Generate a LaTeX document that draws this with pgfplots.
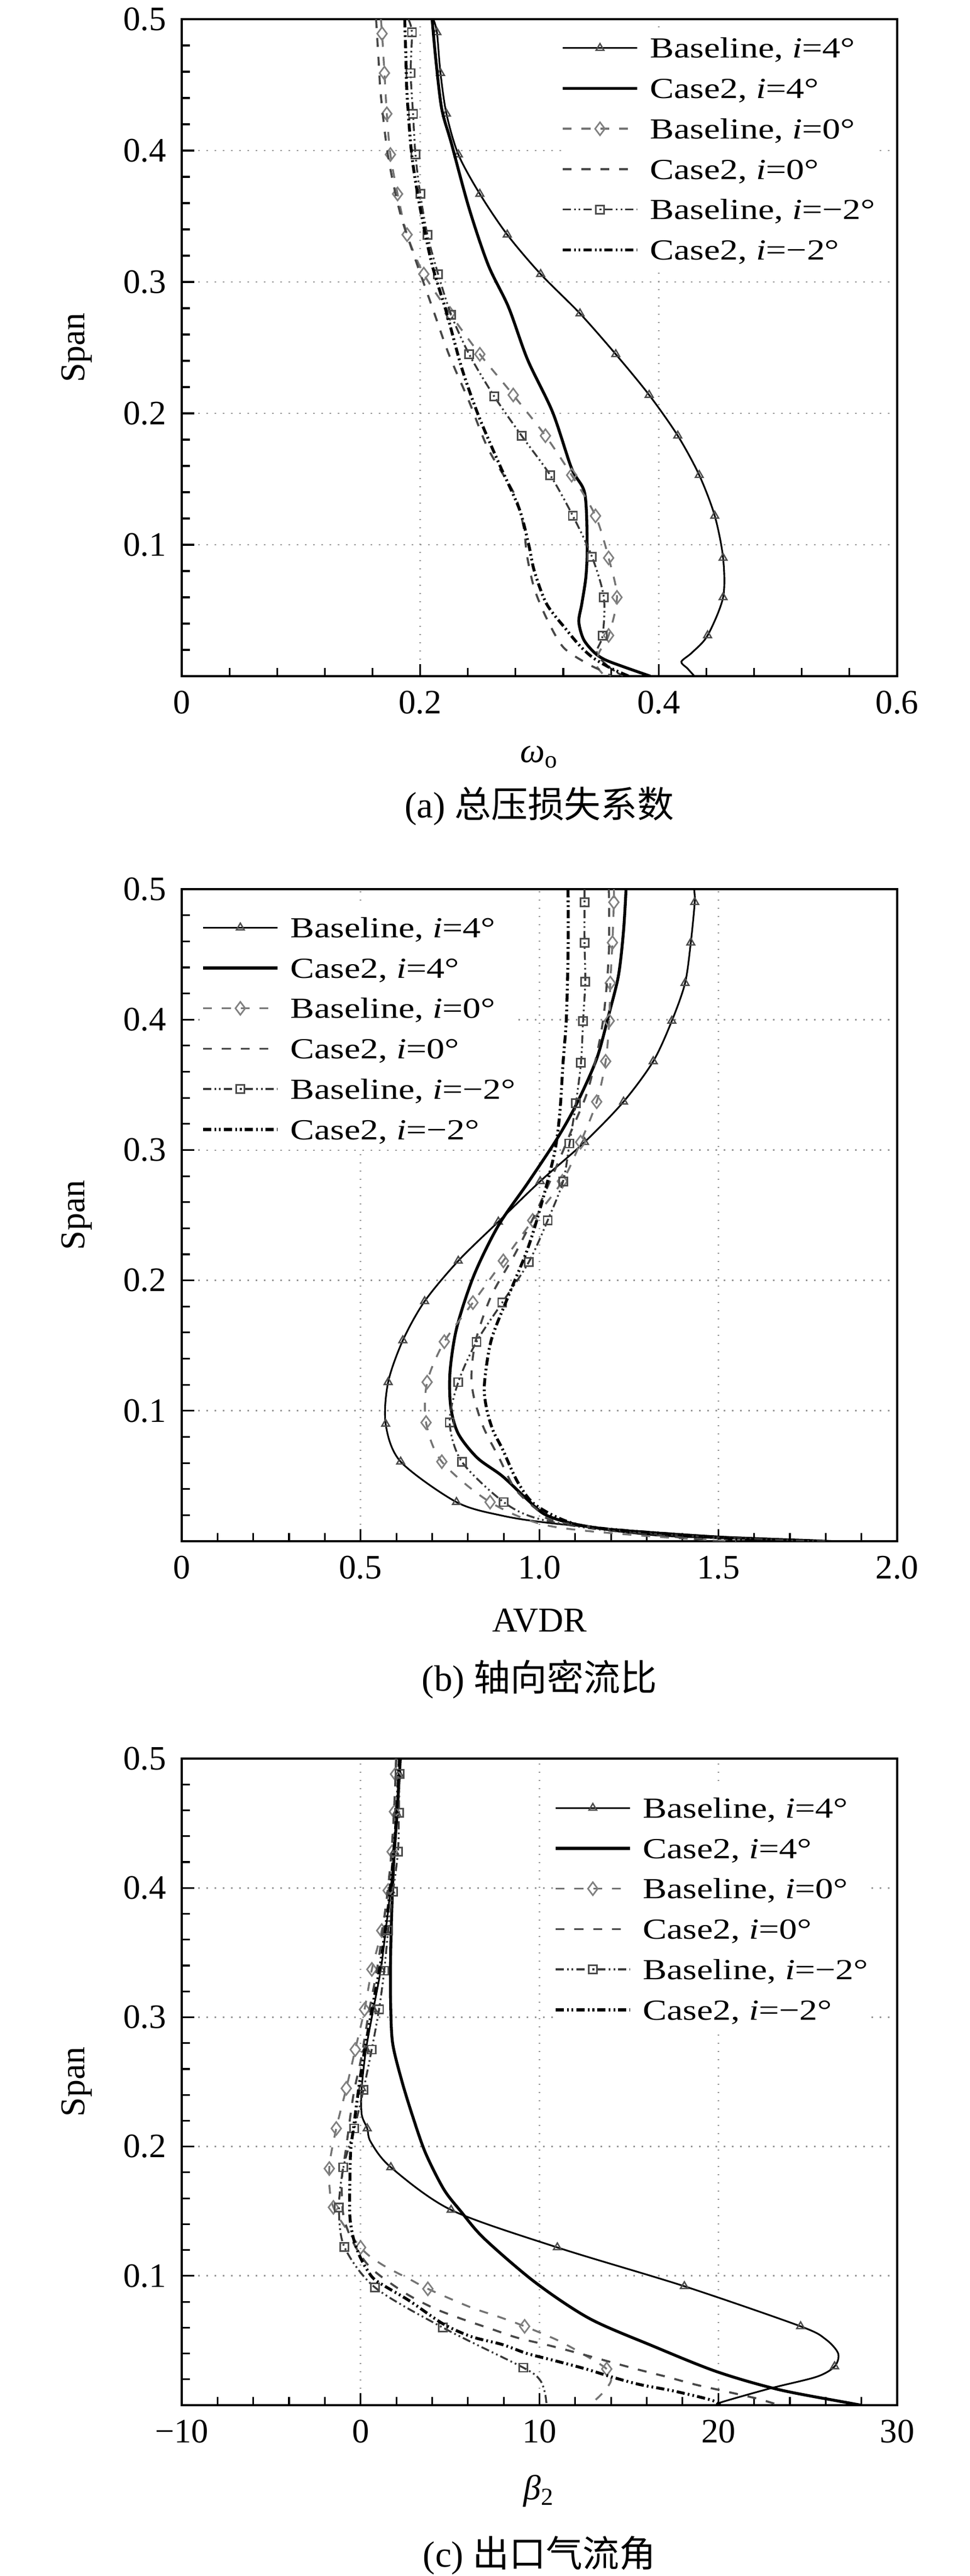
\documentclass[border=0pt]{standalone}
\usepackage{graphicx}
\usepackage{fontspec}
\setmainfont{Liberation Serif}
\newfontfamily\cjk{Noto Sans CJK SC}
\usepackage{pgfplots}
\pgfplotsset{compat=1.18}

\tikzset{
 b4/.style={black, line width=0.5pt, solid},
 c4/.style={black, line width=0.85pt, solid},
 b0/.style={black!55, line width=0.55pt, dash pattern=on 2.6pt off 2.9pt},
 c0/.style={black!72, line width=0.6pt, dash pattern=on 2.6pt off 2.9pt},
 bm2/.style={black!78, line width=0.55pt, dash pattern=on 2.4pt off 0.9pt on 0.5pt off 0.9pt on 0.5pt off 0.9pt},
 cm2/.style={black, line width=0.85pt, dash pattern=on 2.4pt off 0.9pt on 0.5pt off 0.9pt on 0.5pt off 0.9pt},
 mb4/.style={mark=triangle, mark size=1.3pt, mark options={solid, black!70, line width=0.4pt}},
 mb0/.style={mark=diamond, mark size=1.9pt, mark options={solid, black!50, line width=0.45pt}},
 mbm2/.style={mark=square, mark size=1.2pt, mark options={solid, black!70, line width=0.45pt}},
}
\newcommand\lgx[1]{\scalebox{1.24}[1]{#1}}

\pgfplotsset{
 panel/.style={
  scale only axis, width=209.12pt, clip mode=individual,
  ymin=0, ymax=0.5,
  ytick={0,0.1,0.2,0.3,0.4,0.5},
  yticklabels={,0.1,0.2,0.3,0.4,0.5},
  minor y tick num=4, minor x tick num=4,
  tick pos=left, tick align=inside,
  major tick length=3.6pt, minor tick length=2.4pt,
  every tick/.append style={black, line width=0.5pt},
  axis line style={line width=0.65pt},
  grid=major, grid style={black!40, dotted, line width=0.45pt},
  tick label style={font=\fontsize{10pt}{12pt}\selectfont},
  xticklabel style={yshift=-0.8pt},
  yticklabel style={xshift=-1pt},
  label style={font=\fontsize{10.2pt}{12pt}\selectfont},
  ylabel={Span},
  ylabel style={at={(axis description cs:-0.147,0.5)}, anchor=center, rotate=0},
  legend cell align=left,
  legend style={draw=none, fill=white, inner sep=0pt, row sep=0pt, column sep=2.8pt,
    font=\fontsize{8.5pt}{10pt}\selectfont,
    nodes={inner sep=0.5pt, text height=8.3pt, text depth=2.5pt}},
  legend image code/.code={\draw[mark repeat=2,mark phase=2,##1] plot coordinates {(0pt,0pt) (10.9pt,0pt) (21.8pt,0pt)};},
 },
}

\newcommand\legendsix{%
 \addlegendimage{b4,mb4}\addlegendentry{\lgx{Baseline, \textit{i}=4°}}
 \addlegendimage{c4}\addlegendentry{\lgx{Case2, \textit{i}=4°}}
 \addlegendimage{b0,mb0}\addlegendentry{\lgx{Baseline, \textit{i}=0°}}
 \addlegendimage{c0}\addlegendentry{\lgx{Case2, \textit{i}=0°}}
 \addlegendimage{bm2,mbm2}\addlegendentry{\lgx{Baseline, \textit{i}=−2°}}
 \addlegendimage{cm2}\addlegendentry{\lgx{Case2, \textit{i}=−2°}}
}

\begin{document}
\fontsize{10pt}{12pt}\selectfont
\begin{tikzpicture}
\useasboundingbox (0pt,0pt) rectangle (283.52pt,-752.8pt);

% ---------------- (a) ----------------
\begin{axis}[panel, at={(53.12pt,-197.6pt)}, anchor=south west, height=192pt,
  xmin=0, xmax=0.6, xtick={0,0.2,0.4,0.6}, xticklabels={0,0.2,0.4,0.6},
  xlabel={\textit{ω}\textsubscript{o}},
  xlabel style={at={(axis description cs:0.5,-0.123)}, anchor=center},
  legend style={at={(0.5295,0.9879)}, anchor=north west}]
\legendsix
% Baseline i=4
\addplot[b4, smooth, forget plot] coordinates {(0.211,0.5)(0.214,0.490)(0.217,0.459)(0.222,0.428)(0.232,0.397)(0.250,0.367)(0.273,0.336)(0.301,0.306)(0.334,0.276)(0.364,0.245)(0.392,0.214)(0.416,0.183)(0.434,0.153)(0.447,0.122)(0.454,0.090)(0.454,0.060)(0.441,0.031)(0.428,0.018)(0.419,0.011)(0.424,0.006)(0.430,0.0)};
\addplot[only marks, mb4, forget plot] coordinates {(0.214,0.490)(0.217,0.459)(0.222,0.428)(0.232,0.397)(0.250,0.367)(0.273,0.336)(0.301,0.306)(0.334,0.276)(0.364,0.245)(0.392,0.214)(0.416,0.183)(0.434,0.153)(0.447,0.122)(0.454,0.090)(0.454,0.060)(0.441,0.031)};
% Case2 i=4
\addplot[c4, smooth, forget plot] coordinates {(0.210,0.5)(0.213,0.47)(0.218,0.432)(0.226,0.406)(0.241,0.356)(0.257,0.313)(0.274,0.281)(0.290,0.241)(0.311,0.201)(0.327,0.158)(0.338,0.139)(0.340,0.100)(0.339,0.076)(0.3355,0.055)(0.333,0.0415)(0.337,0.028)(0.346,0.018)(0.355,0.0125)(0.371,0.007)(0.393,0.0)};
% Baseline i=0
\addplot[b0, smooth, forget plot] coordinates {(0.167,0.5)(0.168,0.489)(0.170,0.459)(0.172,0.428)(0.175,0.397)(0.181,0.367)(0.189,0.336)(0.203,0.306)(0.225,0.276)(0.250,0.245)(0.278,0.214)(0.305,0.183)(0.327,0.153)(0.347,0.122)(0.358,0.090)(0.365,0.060)(0.358,0.031)(0.350,0.018)(0.348,0.008)(0.355,0.0)};
\addplot[only marks, mb0, forget plot] coordinates {(0.168,0.489)(0.170,0.459)(0.172,0.428)(0.175,0.397)(0.181,0.367)(0.189,0.336)(0.203,0.306)(0.225,0.276)(0.250,0.245)(0.278,0.214)(0.305,0.183)(0.327,0.153)(0.347,0.122)(0.358,0.090)(0.365,0.060)(0.358,0.031)};
% Case2 i=0
\addplot[c0, smooth, forget plot] coordinates {(0.163,0.5)(0.165,0.47)(0.167,0.442)(0.173,0.396)(0.183,0.353)(0.196,0.317)(0.210,0.281)(0.224,0.245)(0.241,0.209)(0.257,0.173)(0.2787,0.139)(0.2866,0.114)(0.2896,0.0915)(0.2957,0.0667)(0.306,0.044)(0.320,0.022)(0.340,0.0096)(0.355,0.003)(0.36,0.0)};
% Baseline i=-2
\addplot[bm2, smooth, forget plot] coordinates {(0.190,0.5)(0.193,0.490)(0.192,0.459)(0.194,0.428)(0.196,0.397)(0.200,0.367)(0.206,0.336)(0.215,0.306)(0.226,0.275)(0.241,0.245)(0.262,0.213)(0.285,0.183)(0.309,0.153)(0.328,0.122)(0.344,0.091)(0.354,0.060)(0.353,0.031)(0.348,0.018)(0.357,0.008)(0.370,0.0)};
\addplot[only marks, mbm2, forget plot] coordinates {(0.193,0.490)(0.192,0.459)(0.194,0.428)(0.196,0.397)(0.200,0.367)(0.206,0.336)(0.215,0.306)(0.226,0.275)(0.241,0.245)(0.262,0.213)(0.285,0.183)(0.309,0.153)(0.328,0.122)(0.344,0.091)(0.354,0.060)(0.353,0.031)};
% Case2 i=-2
\addplot[cm2, smooth, forget plot] coordinates {(0.187,0.5)(0.188,0.47)(0.189,0.442)(0.193,0.396)(0.200,0.356)(0.210,0.313)(0.222,0.277)(0.235,0.234)(0.249,0.198)(0.266,0.162)(0.283,0.1275)(0.291,0.100)(0.2957,0.080)(0.306,0.055)(0.322,0.036)(0.334,0.023)(0.345,0.014)(0.360,0.006)(0.375,0.0)};
\node[font=\fontsize{10.7pt}{12pt}\selectfont] at (axis description cs:0.5,-0.198) {(a) {\cjk 总压损失系数}};
\end{axis}

% ---------------- (b) ----------------
\begin{axis}[panel, at={(53.12pt,-450.4pt)}, anchor=south west, height=190.56pt,
  xmin=0, xmax=2, xtick={0,0.5,1,1.5,2}, xticklabels={0,0.5,1.0,1.5,2.0},
  xlabel={AVDR},
  xlabel style={at={(axis description cs:0.5,-0.122)}, anchor=center},
  legend style={at={(0.0268,0.9731)}, anchor=north west}]
\legendsix
\addplot[b4, smooth, forget plot] coordinates {(1.432,0.5)(1.434,0.490)(1.423,0.459)(1.407,0.428)(1.370,0.399)(1.318,0.368)(1.235,0.337)(1.126,0.306)(1.002,0.276)(0.885,0.245)(0.773,0.215)(0.679,0.184)(0.618,0.154)(0.577,0.122)(0.570,0.090)(0.612,0.061)(0.768,0.030)(0.896,0.0196)(1.028,0.014)(1.248,0.0084)(1.512,0.0035)(1.75,0.001)(1.83,0.0)};
\addplot[only marks, mb4, forget plot] coordinates {(1.434,0.490)(1.423,0.459)(1.407,0.428)(1.370,0.399)(1.318,0.368)(1.235,0.337)(1.126,0.306)(1.002,0.276)(0.885,0.245)(0.773,0.215)(0.679,0.184)(0.618,0.154)(0.577,0.122)(0.570,0.090)(0.612,0.061)(0.768,0.030)};
\addplot[c4, smooth, forget plot] coordinates {(1.242,0.5)(1.235,0.468)(1.221,0.434)(1.194,0.404)(1.160,0.370)(1.105,0.336)(1.050,0.309)(0.968,0.275)(0.885,0.242)(0.817,0.204)(0.769,0.164)(0.750,0.130)(0.752,0.103)(0.773,0.0825)(0.826,0.064)(0.896,0.050)(0.966,0.032)(1.019,0.020)(1.12,0.012)(1.325,0.005)(1.599,0.002)(1.75,0.0)};
\addplot[b0, smooth, forget plot] coordinates {(1.208,0.5)(1.208,0.490)(1.204,0.459)(1.198,0.428)(1.195,0.399)(1.185,0.368)(1.160,0.337)(1.115,0.306)(1.064,0.276)(0.981,0.246)(0.899,0.215)(0.814,0.183)(0.734,0.153)(0.686,0.122)(0.683,0.091)(0.727,0.061)(0.862,0.030)(1.023,0.012)(1.30,0.004)(1.55,0.0)};
\addplot[only marks, mb0, forget plot] coordinates {(1.208,0.490)(1.204,0.459)(1.198,0.428)(1.195,0.399)(1.185,0.368)(1.160,0.337)(1.115,0.306)(1.064,0.276)(0.981,0.246)(0.899,0.215)(0.814,0.183)(0.734,0.153)(0.686,0.122)(0.683,0.091)(0.727,0.061)(0.862,0.030)};
\addplot[c0, smooth, forget plot] coordinates {(1.194,0.5)(1.194,0.451)(1.180,0.404)(1.160,0.373)(1.132,0.343)(1.091,0.316)(1.050,0.289)(0.995,0.255)(0.933,0.221)(0.865,0.188)(0.822,0.154)(0.810,0.128)(0.817,0.110)(0.844,0.087)(0.887,0.064)(0.931,0.0405)(0.99,0.025)(1.05,0.015)(1.325,0.005)(1.5,0.0)};
\addplot[bm2, smooth, forget plot] coordinates {(1.126,0.5)(1.126,0.490)(1.126,0.459)(1.128,0.429)(1.122,0.399)(1.116,0.367)(1.102,0.336)(1.084,0.305)(1.066,0.276)(1.023,0.246)(0.970,0.214)(0.896,0.183)(0.824,0.153)(0.773,0.122)(0.749,0.091)(0.783,0.061)(0.900,0.030)(1.00,0.017)(1.20,0.008)(1.50,0.003)(1.80,0.0)};
\addplot[only marks, mbm2, forget plot] coordinates {(1.126,0.490)(1.126,0.459)(1.128,0.429)(1.122,0.399)(1.116,0.367)(1.102,0.336)(1.084,0.305)(1.066,0.276)(1.023,0.246)(0.970,0.214)(0.896,0.183)(0.824,0.153)(0.773,0.122)(0.749,0.091)(0.783,0.061)(0.900,0.030)};
\addplot[cm2, smooth, forget plot] coordinates {(1.080,0.5)(1.080,0.451)(1.075,0.400)(1.066,0.367)(1.057,0.329)(1.043,0.299)(1.009,0.262)(0.968,0.225)(0.913,0.188)(0.865,0.154)(0.846,0.120)(0.852,0.102)(0.870,0.085)(0.896,0.071)(0.940,0.045)(0.993,0.027)(1.119,0.012)(1.393,0.005)(1.531,0.002)(1.6,0.0)};
\node[font=\fontsize{10.7pt}{12pt}\selectfont] at (axis description cs:0.5,-0.2116) {(b) {\cjk 轴向密流比}};
\end{axis}

% ---------------- (c) ----------------
\begin{axis}[panel, at={(53.12pt,-702.88pt)}, anchor=south west, height=188.96pt,
  xmin=-10, xmax=30, xtick={-10,0,10,20,30}, xticklabels={−10,0,10,20,30},
  xlabel={\textit{β}\textsubscript{2}},
  xlabel style={at={(axis description cs:0.5,-0.133)}, anchor=center},
  legend style={at={(0.5195,0.956)}, anchor=north west}]
\legendsix
\addplot[b4, smooth, forget plot] coordinates {(2.20,0.5)(2.15,0.488)(2.00,0.458)(1.89,0.428)(1.67,0.398)(1.40,0.367)(1.13,0.337)(0.71,0.306)(0.30,0.275)(0.06,0.245)(0.06,0.225)(0.37,0.214)(0.57,0.2035)(1.69,0.184)(5.06,0.151)(11.0,0.122)(18.1,0.092)(24.6,0.061)(26.0,0.051)(26.7,0.040)(26.5,0.030)(25.5,0.022)(22.9,0.013)(20.1,0.002)(20.0,0.0)};
\addplot[only marks, mb4, forget plot] coordinates {(2.15,0.488)(2.00,0.458)(1.89,0.428)(1.67,0.398)(1.40,0.367)(1.13,0.337)(0.71,0.306)(0.30,0.275)(0.06,0.245)(0.37,0.214)(1.69,0.184)(5.06,0.151)(11.0,0.122)(18.1,0.092)(24.6,0.061)(26.5,0.030)};
\addplot[c4, smooth, forget plot] coordinates {(2.22,0.5)(2.05,0.46)(1.85,0.42)(1.73,0.377)(1.67,0.340)(1.68,0.310)(1.79,0.280)(2.30,0.251)(2.92,0.223)(3.63,0.195)(4.65,0.167)(5.6,0.150)(6.9,0.129)(9.76,0.095)(12.8,0.067)(16.3,0.046)(19.9,0.026)(23.4,0.012)(27.4,0.0015)(28,0.0)};
\addplot[b0, smooth, forget plot] coordinates {(1.97,0.5)(1.95,0.488)(1.89,0.459)(1.76,0.428)(1.54,0.398)(1.18,0.367)(0.63,0.337)(0.22,0.306)(-0.30,0.275)(-0.80,0.245)(-1.36,0.214)(-1.75,0.183)(-1.52,0.153)(0.0,0.122)(1.17,0.109)(2.8,0.097)(3.76,0.090)(6.1,0.076)(7.8,0.068)(9.17,0.061)(11.05,0.050)(12.5,0.039)(13.76,0.028)(14.0,0.019)(13.5,0.009)(12.8,0.0)};
\addplot[only marks, mb0, forget plot] coordinates {(1.95,0.488)(1.89,0.459)(1.76,0.428)(1.54,0.398)(1.18,0.367)(0.63,0.337)(0.22,0.306)(-0.30,0.275)(-0.80,0.245)(-1.36,0.214)(-1.75,0.183)(-1.52,0.153)(0.0,0.122)(3.76,0.090)(9.17,0.061)(13.76,0.028)};
\addplot[c0, smooth, forget plot] coordinates {(2.0,0.5)(1.81,0.445)(1.54,0.401)(0.99,0.343)(0.44,0.302)(0.03,0.268)(-0.40,0.240)(-0.80,0.200)(-1.05,0.174)(-0.95,0.146)(-0.38,0.125)(0.58,0.106)(2.46,0.087)(4.1,0.075)(5.6,0.067)(7.3,0.059)(8.8,0.052)(10.6,0.046)(12.5,0.039)(15.4,0.028)(17.1,0.022)(18.7,0.016)(20.3,0.011)(22.2,0.005)(23.4,0.0)};
\addplot[bm2, smooth, forget plot] coordinates {(2.18,0.5)(2.17,0.488)(2.14,0.458)(2.09,0.428)(1.81,0.397)(1.54,0.367)(1.32,0.336)(1.03,0.306)(0.62,0.275)(0.16,0.244)(-0.35,0.214)(-0.96,0.184)(-1.21,0.153)(-0.91,0.1225)(0.81,0.091)(4.6,0.060)(9.1,0.029)(10.0,0.020)(10.3,0.010)(10.4,0.0)};
\addplot[only marks, mbm2, forget plot] coordinates {(2.17,0.488)(2.14,0.458)(2.09,0.428)(1.81,0.397)(1.54,0.367)(1.32,0.336)(1.03,0.306)(0.62,0.275)(0.16,0.244)(-0.35,0.214)(-0.96,0.184)(-1.21,0.153)(-0.91,0.1225)(0.81,0.091)(4.6,0.060)(9.1,0.029)};
\addplot[cm2, smooth, forget plot] coordinates {(2.17,0.5)(1.95,0.445)(1.62,0.394)(1.13,0.343)(0.58,0.302)(0.03,0.258)(-0.40,0.214)(-0.55,0.198)(-0.60,0.174)(-0.60,0.146)(-0.40,0.129)(-0.04,0.115)(0.4,0.104)(0.9,0.096)(2.7,0.081)(4.6,0.063)(6.2,0.053)(7.9,0.047)(9.3,0.040)(10.7,0.035)(12.6,0.028)(14.0,0.022)(15.6,0.016)(17.5,0.011)(19.6,0.004)(20.1,0.0)};
\node[font=\fontsize{10.7pt}{12pt}\selectfont] at (axis description cs:0.5,-0.232) {(c) {\cjk 出口气流角}};
\end{axis}
\end{tikzpicture}
\end{document}
